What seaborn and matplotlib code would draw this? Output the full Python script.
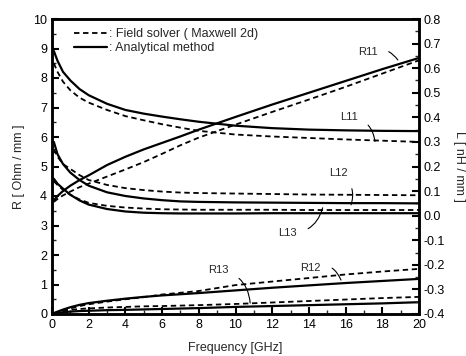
import matplotlib
matplotlib.use("Agg")
import matplotlib.pyplot as plt
import seaborn as sns
from matplotlib.lines import Line2D
from matplotlib.ticker import MultipleLocator

sns.set_style("ticks")
plt.rcParams['font.family'] = ['Liberation Sans', 'DejaVu Sans']

FREQ = [0.1, 0.3, 0.6, 1, 1.5, 2, 3, 4, 5, 6, 7, 8, 10, 12, 14, 16, 18, 20]

# Resistance curves (left axis, Ohm/mm)
R11_ANALYTIC = [3.85, 4.0, 4.17, 4.35, 4.54, 4.7, 5.05, 5.33, 5.58, 5.8, 6.02, 6.25, 6.68, 7.1, 7.5, 7.9, 8.3, 8.68]
R11_SOLVER   = [3.8, 3.9, 4.02, 4.15, 4.3, 4.42, 4.66, 4.9, 5.15, 5.43, 5.72, 5.98, 6.42, 6.85, 7.27, 7.7, 8.15, 8.6]
R12_ANALYTIC = [0.03, 0.08, 0.15, 0.23, 0.31, 0.37, 0.45, 0.52, 0.58, 0.63, 0.67, 0.71, 0.8, 0.89, 0.97, 1.05, 1.12, 1.19]
R12_SOLVER   = [0.02, 0.06, 0.12, 0.19, 0.27, 0.33, 0.42, 0.5, 0.57, 0.66, 0.72, 0.78, 0.98, 1.1, 1.22, 1.34, 1.44, 1.53]
R13_ANALYTIC = [0.02, 0.04, 0.06, 0.08, 0.1, 0.11, 0.13, 0.14, 0.155, 0.17, 0.185, 0.2, 0.24, 0.27, 0.3, 0.33, 0.36, 0.4]
R13_SOLVER   = [0.03, 0.06, 0.1, 0.14, 0.17, 0.19, 0.22, 0.24, 0.26, 0.27, 0.285, 0.3, 0.34, 0.39, 0.44, 0.49, 0.54, 0.58]

# Inductance curves (right axis, nH/mm)
L11_ANALYTIC = [0.67, 0.63, 0.585, 0.55, 0.515, 0.49, 0.455, 0.43, 0.415, 0.403, 0.392, 0.382, 0.366, 0.356, 0.35, 0.347, 0.345, 0.344]
L11_SOLVER   = [0.62, 0.585, 0.545, 0.51, 0.48, 0.46, 0.43, 0.405, 0.388, 0.372, 0.358, 0.345, 0.33, 0.322, 0.316, 0.31, 0.305, 0.30]
L12_ANALYTIC = [0.30, 0.25, 0.21, 0.175, 0.145, 0.122, 0.095, 0.08, 0.07, 0.063, 0.058, 0.056, 0.054, 0.053, 0.052, 0.051, 0.051, 0.05]
L12_SOLVER   = [0.27, 0.24, 0.21, 0.19, 0.165, 0.145, 0.125, 0.112, 0.104, 0.098, 0.094, 0.092, 0.09, 0.088, 0.086, 0.085, 0.084, 0.083]
L13_ANALYTIC = [0.15, 0.13, 0.11, 0.085, 0.062, 0.045, 0.027, 0.017, 0.012, 0.01, 0.009, 0.009, 0.009, 0.01, 0.01, 0.01, 0.01, 0.01]
L13_SOLVER   = [0.14, 0.125, 0.105, 0.085, 0.066, 0.052, 0.04, 0.033, 0.029, 0.026, 0.025, 0.024, 0.024, 0.024, 0.023, 0.023, 0.023, 0.023]

LEGEND_LABELS = [": Field solver ( Maxwell 2d)", ": Analytical method"]
ANNOTATIONS = [
    ("R11", (17.2, 8.88), (18.85, 8.61), -0.4),
    ("L11", (16.2, 6.68), (17.6, 5.85), -0.4),
    ("L12", (15.6, 4.78), (16.3, 3.7), -0.4),
    ("L13", (12.85, 2.75), (14.75, 3.6), 0.4),
    ("R12", (14.1, 1.56), (15.75, 1.15), -0.5),
    ("R13", (9.07, 1.49), (10.8, 0.37), -0.4),
]

W, H = 466, 356
fig = plt.figure(figsize=(W / 100, H / 100), dpi=100)
ax = fig.add_axes([52 / W, 1 - 314 / H, (419 - 52) / W, (314 - 19) / H])
ax2 = ax.twinx()

DASH = (0, (3, 2))
lw = 1.3
for y in [R11_SOLVER, R12_SOLVER, R13_SOLVER]:
    sns.lineplot(x=FREQ, y=y, ax=ax, color="black", lw=lw, linestyle=DASH)
for y in [R11_ANALYTIC, R12_ANALYTIC, R13_ANALYTIC]:
    sns.lineplot(x=FREQ, y=y, ax=ax, color="black", lw=lw + 0.3, linestyle="-")
for y in [L11_SOLVER, L12_SOLVER, L13_SOLVER]:
    sns.lineplot(x=FREQ, y=y, ax=ax2, color="black", lw=lw, linestyle=DASH)
for y in [L11_ANALYTIC, L12_ANALYTIC, L13_ANALYTIC]:
    sns.lineplot(x=FREQ, y=y, ax=ax2, color="black", lw=lw + 0.3, linestyle="-")

ax.set_xlim(0, 20)
ax.set_ylim(0, 10)
ax2.set_ylim(-0.4, 0.8)

fs = 9
ax.xaxis.set_major_locator(MultipleLocator(2))
ax.xaxis.set_minor_locator(MultipleLocator(1))
ax.yaxis.set_major_locator(MultipleLocator(1))
ax.yaxis.set_minor_locator(MultipleLocator(0.5))
ax2.yaxis.set_major_locator(MultipleLocator(0.1))
ax2.yaxis.set_minor_locator(MultipleLocator(0.05))
ax2.set_yticklabels([f"{v:.1f}" for v in ax2.get_yticks()])

for a in (ax, ax2):
    a.tick_params(which="major", direction="in", length=5, width=1.5, labelsize=fs, colors="black")
    a.tick_params(which="minor", direction="in", length=3, width=1.0)
ax.tick_params(axis="y", which="both", left=True, right=False)
ax2.tick_params(axis="y", which="both", left=False, right=True)
ax.tick_params(axis="x", which="both", top=False, bottom=True)

for a in (ax, ax2):
    for s in a.spines.values():
        s.set_linewidth(1.8)
        s.set_color("black")

ax.set_xlabel("Frequency [GHz]", fontsize=fs, labelpad=8)
ax.set_ylabel("R [ Ohm / mm ]", fontsize=fs, labelpad=6)
ax2.set_ylabel("L [ nH / mm ]", fontsize=fs, rotation=270, labelpad=14)

handles = [Line2D([], [], color="black", lw=lw, linestyle=DASH),
           Line2D([], [], color="black", lw=lw + 0.3, linestyle="-")]
ax.legend(handles, LEGEND_LABELS, loc="upper left", bbox_to_anchor=(0.045, 0.985),
          frameon=False, fontsize=fs, handlelength=2.7, handletextpad=0.1,
          labelspacing=0.15, borderaxespad=0)

for text, xy_text, xy_pt, rad in ANNOTATIONS:
    ax.annotate(text, xy=xy_pt, xytext=xy_text, fontsize=fs - 1, ha="center", va="center",
                arrowprops=dict(arrowstyle="-", color="black", lw=0.8,
                                connectionstyle=f"arc3,rad={rad}", shrinkA=6, shrinkB=0))

fig.savefig("out.png", dpi=100)
